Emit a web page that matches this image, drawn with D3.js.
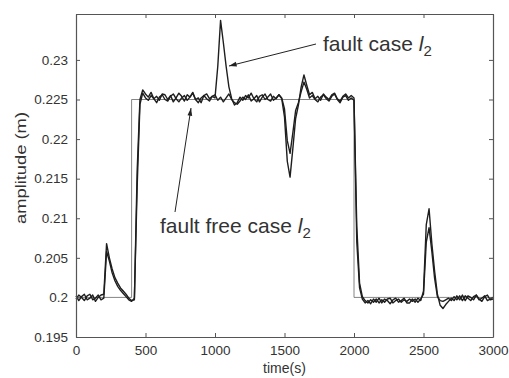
<!DOCTYPE html>
<html><head><meta charset="utf-8">
<script src="https://cdn.jsdelivr.net/npm/d3@7"></script>
<style>
html,body{margin:0;padding:0;background:#fff;}
svg{display:block;}
text{font-family:"Liberation Sans",Arial,sans-serif;fill:#333;}
</style></head>
<body>
<svg id="chart" width="509" height="378"></svg>
<script>
// ---- data ----
const timeStep = 20;               // seconds between samples
const times = d3.range(0, 3001, timeStep);
const xTicks = [0, 500, 1000, 1500, 2000, 2500, 3000];
const yTicks = [0.195, 0.2, 0.205, 0.21, 0.215, 0.22, 0.225, 0.23];

// fault case l2
const faultCase = [
0.2002,0.1996,0.2001,0.2004,0.1997,0.1999,0.2003,0.1995,0.2000,0.2003,
0.2004,0.2068,0.2050,0.2036,0.2025,0.2018,0.2012,0.2008,0.2004,0.1999,
0.1996,0.1997,0.2160,0.2250,0.2262,0.2257,0.2253,0.2259,0.2251,0.2254,
0.2249,0.2257,0.2256,0.2250,0.2255,0.2247,0.2252,0.2258,0.2254,0.2248,
0.2256,0.2253,0.2259,0.2250,0.2252,0.2246,0.2255,0.2257,0.2251,0.2254,
0.2252,0.2292,0.2350,0.2322,0.2292,0.2266,0.2251,0.2243,0.2246,0.2253,
0.2249,0.2255,0.2252,0.2258,0.2251,0.2247,0.2254,0.2256,0.2250,0.2253,
0.2257,0.2249,0.2252,0.2256,0.2251,0.2228,0.2172,0.2152,0.2188,0.2226,
0.2243,0.2266,0.2281,0.2268,0.2256,0.2259,0.2251,0.2254,0.2249,0.2257,
0.2253,0.2250,0.2256,0.2258,0.2251,0.2248,0.2254,0.2257,0.2252,0.2255,
0.2252,0.2070,0.2012,0.1998,0.1993,0.1996,0.1992,0.1998,0.1994,0.1999,
0.1993,0.1998,0.1996,0.1992,0.1997,0.1999,0.1994,0.1996,0.1999,0.1993,
0.1993,0.1998,0.1994,0.1999,0.1996,0.2008,0.2092,0.2112,0.2068,0.2033,
0.2004,0.1990,0.1986,0.1991,0.1995,0.1999,0.1996,0.2002,0.1997,0.2003,
0.1996,0.2002,0.2000,0.1997,0.2003,0.1998,0.1995,0.2001,0.2003,0.1997,
0.1998
];

// fault free case l2
const faultFree = [
0.1998,0.2003,0.2000,0.1996,0.2002,0.2004,0.1997,0.1999,0.2003,0.1997,
0.1999,0.2058,0.2046,0.2031,0.2021,0.2014,0.2009,0.2005,0.2001,0.1997,
0.1995,0.1999,0.2140,0.2244,0.2258,0.2252,0.2249,0.2255,0.2251,0.2246,
0.2253,0.2256,0.2250,0.2248,0.2254,0.2257,0.2251,0.2247,0.2252,0.2255,
0.2249,0.2253,0.2258,0.2250,0.2246,0.2252,0.2255,0.2251,0.2248,0.2254,
0.2256,0.2249,0.2253,0.2247,0.2252,0.2257,0.2250,0.2246,0.2244,0.2248,
0.2253,0.2250,0.2256,0.2248,0.2251,0.2255,0.2247,0.2253,0.2257,0.2250,
0.2248,0.2254,0.2251,0.2256,0.2252,0.2238,0.2198,0.2182,0.2208,0.2236,
0.2246,0.2260,0.2272,0.2263,0.2252,0.2255,0.2250,0.2247,0.2253,0.2256,
0.2251,0.2248,0.2254,0.2257,0.2250,0.2246,0.2253,0.2255,0.2249,0.2252,
0.2249,0.2090,0.2018,0.2001,0.1996,0.1993,0.1997,0.1994,0.1998,0.1993,
0.1997,0.1994,0.1998,0.1999,0.1993,0.1996,0.1998,0.1994,0.1997,0.1995,
0.1998,0.1995,0.1998,0.1994,0.1998,0.2004,0.2070,0.2088,0.2058,0.2024,
0.2001,0.1996,0.1995,0.1997,0.1999,0.1996,0.2001,0.1997,0.2002,0.1996,
0.2002,0.1999,0.1996,0.2001,0.2003,0.1997,0.1999,0.2002,0.1996,0.1998,
0.2000
];

// reference (setpoint) step
const refTimes  = [0, 400, 400, 2000, 2000, 3000];
const refValues = [0.2, 0.2, 0.225, 0.225, 0.2, 0.2];

// ---- drawing ----
const svg = d3.select("#chart");
const L = 76, R = 493, T = 14, B = 337;
const x = d3.scaleLinear().domain([0, 3000]).range([L, R]);
const y = d3.scaleLinear().domain([0.195, 0.2358]).range([B, T]);

const fmtY = d => String(+d.toFixed(3));
const tickFont = "13.5px";

// reference thin line
const line = d3.line().x(d => x(d[0])).y(d => y(d[1]));
svg.append("path")
  .attr("d", line(refTimes.map((t, i) => [t, refValues[i]])))
  .attr("fill", "none").attr("stroke", "#666").attr("stroke-width", 0.8);

// series
[faultFree, faultCase].forEach(vals => {
  svg.append("path")
    .attr("d", line(times.map((t, i) => [t, vals[i]])))
    .attr("fill", "none").attr("stroke", "#1e1e1e").attr("stroke-width", 1.4)
    .attr("stroke-linejoin", "round");
});

// axes (MATLAB-like: inward ticks, box)
const axB = svg.append("g").attr("transform", `translate(0,${B})`)
  .call(d3.axisBottom(x).tickValues(xTicks).tickSizeInner(-4).tickSizeOuter(0).tickPadding(8).tickFormat(d3.format("d")));
const axT = svg.append("g").attr("transform", `translate(0,${T})`)
  .call(d3.axisTop(x).tickValues(xTicks).tickSizeInner(-4).tickSizeOuter(0).tickFormat(""));
const axL = svg.append("g").attr("transform", `translate(${L},0)`)
  .call(d3.axisLeft(y).tickValues(yTicks).tickSizeInner(-4).tickSizeOuter(0).tickPadding(8).tickFormat(fmtY));
const axR = svg.append("g").attr("transform", `translate(${R},0)`)
  .call(d3.axisRight(y).tickValues(yTicks).tickSizeInner(-4).tickSizeOuter(0).tickFormat(""));
[axB, axT, axL, axR].forEach(g => {
  g.select(".domain").attr("stroke", "#555").attr("stroke-width", 1.2);
  g.selectAll(".tick line").attr("stroke", "#555");
  g.selectAll("text").style("font-size", tickFont).attr("fill", "#333")
    .style("font-family", "'Liberation Sans',Arial,sans-serif");
});

// axis titles
svg.append("text").attr("x", (L + R) / 2).attr("y", 373).attr("text-anchor", "middle")
  .style("font-size", "14px").text("time(s)");
svg.append("text").attr("transform", `translate(26,${168}) rotate(-90)`).attr("text-anchor", "middle")
  .attr("textLength", 112).attr("lengthAdjust", "spacingAndGlyphs")
  .style("font-size", "14px").text("amplitude (m)");

// annotations
function label(xp, yp, main) {
  const t = svg.append("text").attr("x", xp).attr("y", yp).style("font-size", "21px");
  t.append("tspan").text(main + " ");
  t.append("tspan").style("font-style", "italic").text("l");
  t.append("tspan").attr("dy", 5).style("font-size", "15px").text("2");
}
label(323, 51, "fault case");
label(160, 233, "fault free case");

// arrows
function arrow(x1, y1, x2, y2) {
  svg.append("line").attr("x1", x1).attr("y1", y1).attr("x2", x2).attr("y2", y2)
    .attr("stroke", "#222").attr("stroke-width", 1);
  const a = Math.atan2(y2 - y1, x2 - x1), len = 8, w = 0.3;
  const p = [[x2, y2],
    [x2 - len * Math.cos(a - w), y2 - len * Math.sin(a - w)],
    [x2 - len * Math.cos(a + w), y2 - len * Math.sin(a + w)]];
  svg.append("path").attr("d", "M" + p.join("L") + "Z").attr("fill", "#222");
}
arrow(316, 44, 229, 66);
arrow(175, 212, 191, 108);
</script>
</body></html>
